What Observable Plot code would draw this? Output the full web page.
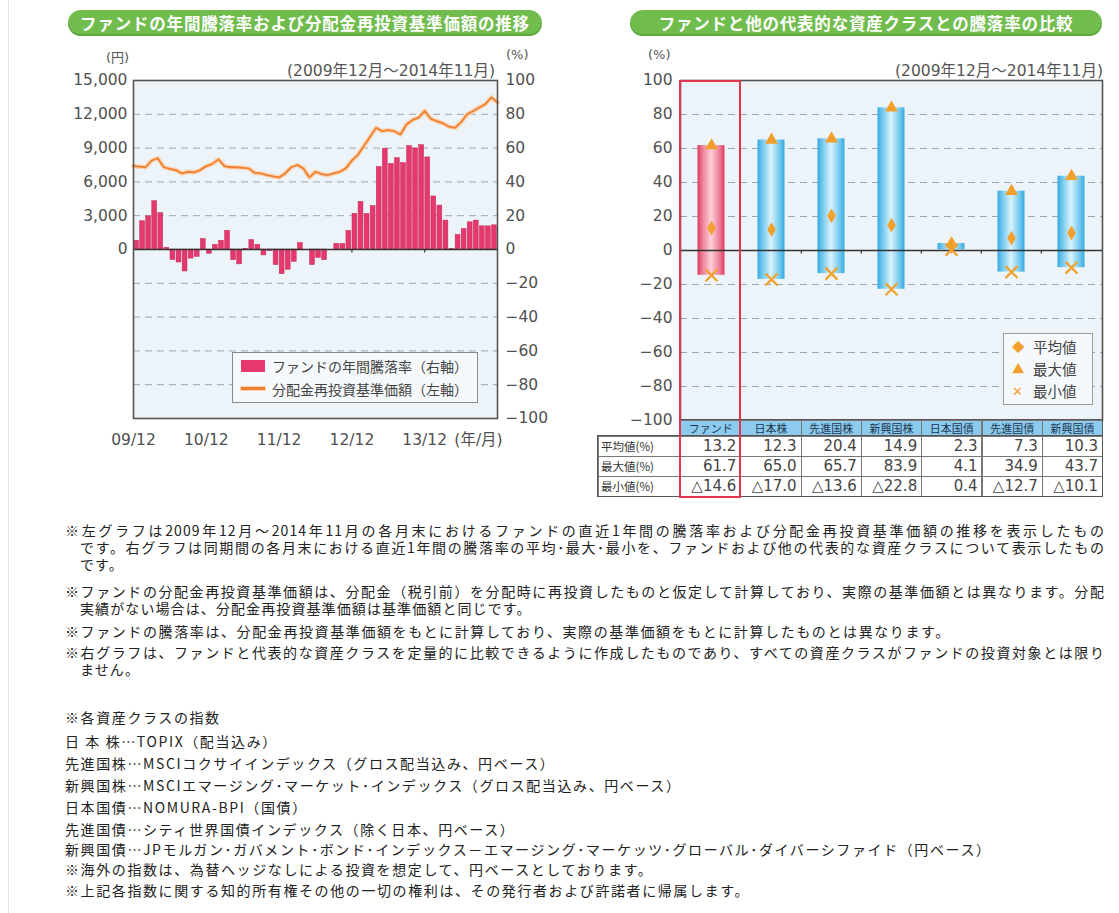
<!DOCTYPE html>
<html><head><meta charset="utf-8">
<script src="https://cdn.jsdelivr.net/npm/d3@7"></script>
<script src="https://cdn.jsdelivr.net/npm/@observablehq/plot@0.6"></script>
<style>
body{margin:0;background:#fff;}
#page{position:relative;width:1119px;height:913px;font-family:"Noto Sans CJK JP",sans-serif;color:#333;overflow:hidden}
.abs{position:absolute;white-space:nowrap}
.pill{position:absolute;height:26px;border-radius:13px;background:#70bd4e;color:#fff;font-weight:bold;font-size:16.5px;line-height:26px;text-align:center;letter-spacing:0.8px;box-shadow:inset 0 -2px 0 #5ea93f}
.lab{font-family:"DejaVu Sans","Noto Sans CJK JP",sans-serif;color:#555}
.cell{position:absolute;box-sizing:border-box;border:1px solid #777;white-space:nowrap;overflow:hidden}
.note{position:absolute;font-size:14px;letter-spacing:1.6px;line-height:17px;color:#222;white-space:nowrap}
.para{position:absolute;left:65px;width:1025px;padding-left:15px;text-indent:-15px;font-size:14px;letter-spacing:1.1px;line-height:17px;color:#222;text-align:justify;word-break:keep-all}
svg{position:absolute;top:0}
</style>
</head><body>
<div id="page"></div>
<script>
// ---------- data ----------
const xTickLabels = ["09/12","10/12","11/12","12/12","13/12"];
// fund 1-year return (%) at each month end, 2009/12 .. 2014/11
const fundReturn = [5.2,16.7,19.6,28.6,21.5,1.0,-6.3,-7.7,-13,-5.4,-4.4,6.2,-2.5,2.7,5.2,11,-6.3,-8.8,0.3,5.6,
  2.7,-3.5,-1,-9.2,-14.6,-12,-7.3,3.8,0,-9.2,-5,-6.3,0,3.3,3.3,11,21.1,28.2,21.1,25.7,
  48.8,59.6,50.6,54,51.1,61.2,59.8,61.7,54.5,31.4,26,17.1,0.2,8.6,12.1,16.1,17.1,13.7,13.7,14.3];
// dividend-reinvested NAV (yen), month ends 2009/11 .. 2014/11
const navValues = [7410,7350,7300,7900,8100,7300,7150,7050,6750,6900,6850,7050,7400,7600,8000,7400,7300,7300,7250,7200,
  6800,6750,6600,6500,6400,6750,7300,7500,7200,6400,6900,6700,6600,6750,6900,7200,7900,8400,9200,10000,
  10800,10500,10600,10500,10200,11100,11500,11700,12300,11600,11400,11200,10900,10800,11300,12000,12300,12600,12900,13500,13050];
const gridPct = [-100,-80,-60,-40,-20,0,20,40,60,80,100];
const navPerPct = 150; // 15,000 yen <-> 100 %

const assetNames = ["ファンド","日本株","先進国株","新興国株","日本国債","先進国債","新興国債"];
const avgValues = [13.2,12.3,20.4,14.9,2.3,7.3,10.3];
const maxValues = [61.7,65.0,65.7,83.9,4.1,34.9,43.7];
const minValues = [-14.6,-17.0,-13.6,-22.8,0.4,-12.7,-10.1];
const rowLabels = ["平均値(%)","最大値(%)","最小値(%)"];

const page = document.getElementById("page");
function add(html){ page.insertAdjacentHTML("beforeend", html); }

// ---------- left chart ----------
const retData = fundReturn.map((r,i)=>({i, r}));
const navData = navValues.map((v,i)=>({i, v}));
const tickFont = {fontFamily:"DejaVu Sans", fontSize:15.5};
const left = Plot.plot({
  width:560, height:460, marginTop:80, marginBottom:42, marginLeft:133, marginRight:63,
  x:{domain:[0,60]}, y:{domain:[-100,100]},
  style:{fontFamily:"DejaVu Sans", fontSize:"15.5px", color:"#505050", background:"transparent", overflow:"visible"},
  marks:[
    Plot.frame({fill:"#edf4f9"}),
    Plot.ruleY(gridPct.filter(d=>d!==0 && d!==100 && d!==-100), {stroke:"#9ea6ad", strokeDasharray:"7,5", strokeWidth:1}),
    Plot.rectY(retData, {x1:"i", x2:d=>d.i+1, y1:0, y2:"r", fill:"#e6386d", stroke:"#c02a58", strokeWidth:0.5, insetLeft:0.6, insetRight:0.6}),
    Plot.ruleY([0], {stroke:"#333", strokeWidth:1.4}),
    Plot.ruleX([36,48], {y1:0, y2:-2, stroke:"#333", strokeWidth:1.2}),
    Plot.line(navData, {x:"i", y:d=>d.v/navPerPct, stroke:"#fbd2ad", strokeWidth:4.5}),
    Plot.line(navData, {x:"i", y:d=>d.v/navPerPct, stroke:"#ec7f30", strokeWidth:1.8}),
    Plot.frame({stroke:"#555", strokeWidth:1.6}),
    Plot.axisY({anchor:"left", ticks:[0,20,40,60,80,100], tickFormat:d=>d3.format(",")(d*navPerPct), tickSize:0, tickPadding:6, label:null, ...tickFont}),
    Plot.axisY({anchor:"right", ticks:gridPct, tickSize:0, tickPadding:8, label:null, ...tickFont}),
    Plot.axisX({ticks:[0,12,24,36,48], tickFormat:d=>xTickLabels[d/12], tickSize:0, tickPadding:15, label:null, ...tickFont}),
    Plot.text(["(年/月)"], {x:60, y:-100, dx:-19, dy:15, lineAnchor:"top", fontFamily:"DejaVu Sans, Noto Sans CJK JP", fontSize:15.5, fill:"#505050"})
  ]
});
left.style.left = "0px";
page.appendChild(left);

// ---------- right chart ----------
const rightData = assetNames.map((name,i)=>({name, avg:avgValues[i], max:maxValues[i], min:minValues[i], i}));
const markColor = "#f1a02c";
const right = Plot.plot({
  width:559, height:460, marginTop:80, marginBottom:40, marginLeft:120, marginRight:17,
  x:{domain:assetNames, padding:0, axis:null}, y:{domain:[-100,100]},
  style:{fontFamily:"DejaVu Sans", fontSize:"15.5px", color:"#505050", background:"transparent", overflow:"visible"},
  marks:[
    Plot.frame({fill:"#edf4f9"}),
    Plot.ruleY(gridPct.filter(d=>d!==0 && d!==100 && d!==-100), {stroke:"#9ea6ad", strokeDasharray:"7,5", strokeWidth:1}),
    Plot.barY(rightData.filter(d=>d.i===0), {x:"name", y1:"min", y2:"max", fill:"url(#gradRed)", insetLeft:16.5, insetRight:16.5}),
    Plot.barY(rightData.filter(d=>d.i>0), {x:"name", y1:"min", y2:"max", fill:"url(#gradBlue)", insetLeft:16.5, insetRight:16.5}),
    Plot.ruleY([0], {stroke:"#333", strokeWidth:1.4}),
    Plot.ruleX(assetNames.slice(2), {x:d=>d, y1:0, y2:-2, dx:-30.15, stroke:"#333", strokeWidth:1.2}),
    Plot.dot(rightData, {x:"name", y:"max", symbol:"triangle", fill:markColor, r:4.8}),
    Plot.dot(rightData, {x:"name", y:"avg", symbol:"diamond", fill:markColor, r:4.5}),
    Plot.dot(rightData, {x:"name", y:"min", symbol:"times", stroke:markColor, strokeWidth:2.2, r:5.5}),
    Plot.frame({stroke:"#555", strokeWidth:1.6}),
    Plot.axisY({anchor:"left", ticks:gridPct, tickSize:0, tickPadding:8, label:null, ...tickFont})
  ]
});
right.style.left = "560px";
const defs = d3.select(right).insert("defs", ":first-child");
function grad(id, edge, mid, center){
  const g = defs.append("linearGradient").attr("id", id).attr("x1",0).attr("x2",1).attr("y1",0).attr("y2",0);
  [[0,edge],[0.18,mid],[0.5,center],[0.82,mid],[1,edge]].forEach(([o,c])=>g.append("stop").attr("offset",o).attr("stop-color",c));
}
grad("gradBlue", "#36a9e0", "#72c8ee", "#d9f2fc");
grad("gradRed", "#e03a5c", "#ee7d96", "#fcd0da");
page.appendChild(right);

// ---------- html text ----------
add(`<div class="abs" style="left:8px;top:0;width:1px;height:913px;background:#e2e2e2"></div>`);
add(`<div class="pill" style="left:68px;top:10px;width:474px">ファンドの年間騰落率および分配金再投資基準価額の推移</div>`);
add(`<div class="pill" style="left:630px;top:10px;width:472px">ファンドと他の代表的な資産クラスとの騰落率の比較</div>`);
add(`<div class="abs lab" style="left:106px;top:47px;font-size:13px">(円)</div>`);
add(`<div class="abs lab" style="left:506px;top:47px;font-size:13px">(%)</div>`);
add(`<div class="abs lab" style="right:624px;top:58px;font-size:15.5px">(2009年12月～2014年11月)</div>`);
add(`<div class="abs lab" style="left:648px;top:47px;font-size:13px">(%)</div>`);
add(`<div class="abs lab" style="right:16px;top:58px;font-size:15.5px">(2009年12月～2014年11月)</div>`);

// left legend
add(`<div class="abs" style="left:232px;top:352px;width:246px;height:51px;box-sizing:border-box;border:1px solid #8a8a8a;background:#f6f9fb"></div>`);
add(`<div class="abs" style="left:241px;top:360px;width:24px;height:12px;background:#e6386d"></div>`);
add(`<div class="abs" style="left:241px;top:387px;width:24px;height:3px;background:#ec7f30;box-shadow:0 0 0 1px #fbd2ad"></div>`);
add(`<div class="abs" style="left:272px;top:356px;font-size:14px;color:#444">ファンドの年間騰落率（右軸）</div>`);
add(`<div class="abs" style="left:272px;top:379px;font-size:14px;color:#444">分配金再投資基準価額（左軸）</div>`);

// right legend
add(`<div class="abs" style="left:1003px;top:333px;width:90px;height:72px;box-sizing:border-box;border:1px solid #9a9a9a;background:#f6f9fb"></div>`);
[["◆","平均値"],["▲","最大値"],["✕","最小値"]].forEach(([s,t],k)=>{
  add(`<div class="abs" style="left:1012px;top:${337+k*22}px;font-size:12.5px;color:${markColor}">${s}</div>`);
  add(`<div class="abs" style="left:1033px;top:${336+k*22}px;font-size:14.5px;color:#444">${t}</div>`);
});

// table
const colX = i => 680 + i*60.3;
assetNames.forEach((n,i)=>{
  add(`<div class="cell" style="left:${colX(i)}px;top:420px;width:61.3px;height:17px;background:#8ccbee;font-size:11px;line-height:15px;text-align:center;color:#1c3550">${n}</div>`);
});
const fmt = v => v < 0 ? "△" + Math.abs(v).toFixed(1) : v.toFixed(1);
[avgValues, maxValues, minValues].forEach((arr,r)=>{
  const top = 436 + r*20;
  add(`<div class="cell" style="left:598px;top:${top}px;width:83px;height:21px;background:#fff;font-size:11.5px;line-height:19px;padding-left:2px;color:#333">${rowLabels[r]}</div>`);
  arr.forEach((v,i)=>{
    add(`<div class="cell lab" style="left:${colX(i)}px;top:${top}px;width:61.3px;height:21px;background:#fff;font-size:15px;line-height:19px;text-align:right;padding-right:4px;color:#444">${fmt(v)}</div>`);
  });
});
add(`<div class="abs" style="left:597px;top:435px;width:506px;height:62px;box-sizing:border-box;border:1.5px solid #555"></div>`);
add(`<div class="abs" style="left:680px;top:419px;width:423px;height:17px;box-sizing:border-box;border:1.5px solid #555;border-bottom:none"></div>`);
// highlight box for the fund
add(`<div class="abs" style="left:679px;top:80px;width:62px;height:418px;box-sizing:border-box;border:2px solid #e1364d"></div>`);

// notes: each paragraph is one text; with keep-all and word joiners after
// punctuation, the only line-break opportunities are the zero-width spaces
const ZW = "\u200B", WJ = "\u2060";
const paras = [
  [522, ["※左グラフは2009年12月～2014年11月の各月末におけるファンドの直近1年間の騰落率および分配金再投資基準価額の推移を表示したもの",
         "です。右グラフは同期間の各月末における直近1年間の騰落率の平均･最大･最小を、ファンドおよび他の代表的な資産クラスについて表示したもの",
         "です。"]],
  [583, ["※ファンドの分配金再投資基準価額は、分配金（税引前）を分配時に再投資したものと仮定して計算しており、実際の基準価額とは異なります。分配",
         "実績がない場合は、分配金再投資基準価額は基準価額と同じです。"]],
  [644, ["※右グラフは、ファンドと代表的な資産クラスを定量的に比較できるように作成したものであり、すべての資産クラスがファンドの投資対象とは限り",
         "ません。"]]
];
paras.forEach(([t,lines])=>{
  const txt = lines.map(l => l.replace(/([、。（）･])/g, WJ + "$1" + WJ)).join(ZW);
  const div = document.createElement("div");
  div.className = "para";
  div.style.top = t + "px";
  div.textContent = txt;
  page.appendChild(div);
});
const notes = [
  [623, "※ファンドの騰落率は、分配金再投資基準価額をもとに計算しており、実際の基準価額をもとに計算したものとは異なります。"],
  [709, "※各資産クラスの指数"],
  [733, "日 本 株…TOPIX（配当込み）"],
  [755, "先進国株…MSCIコクサイインデックス（グロス配当込み、円ベース）"],
  [777, "新興国株…MSCIエマージング･マーケット･インデックス（グロス配当込み、円ベース）"],
  [799, "日本国債…NOMURA-BPI（国債）"],
  [821, "先進国債…シティ世界国債インデックス（除く日本、円ベース）"],
  [841, "新興国債…JPモルガン･ガバメント･ボンド･インデックス－エマージング･マーケッツ･グローバル･ダイバーシファイド（円ベース）"],
  [861, "※海外の指数は、為替ヘッジなしによる投資を想定して、円ベースとしております。"],
  [882, "※上記各指数に関する知的所有権その他の一切の権利は、その発行者および許諾者に帰属します。"]
];
notes.forEach(([t,txt])=>{
  add(`<div class="note" style="top:${t}px;left:65px">${txt}</div>`);
});
</script>
</body></html>
